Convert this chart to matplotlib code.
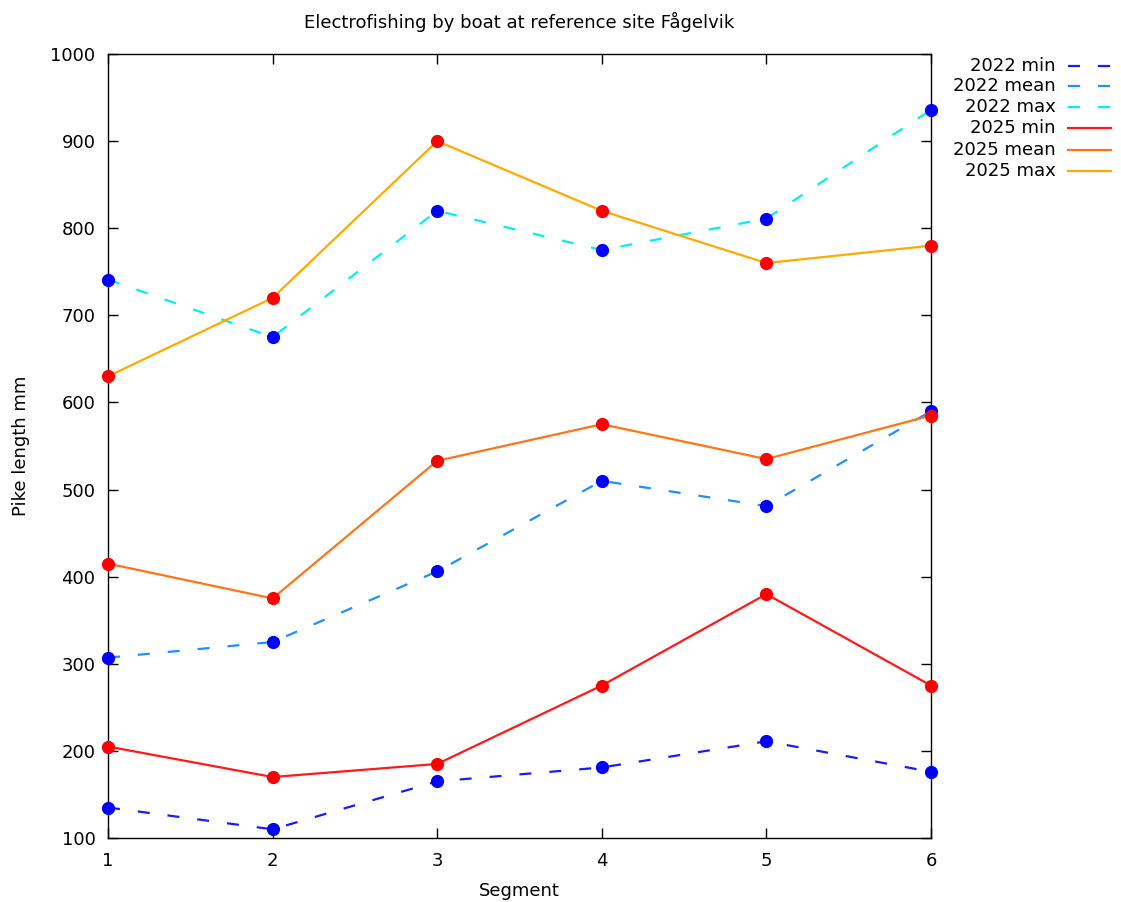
import matplotlib
matplotlib.use("Agg")
import matplotlib.pyplot as plt
from matplotlib.lines import Line2D

plt.rcParams['font.family'] = ['DejaVu Sans']

segments = [1, 2, 3, 4, 5, 6]

min_2022 = [135, 110, 165, 181, 211, 176]
mean_2022 = [307, 325, 406, 510, 481, 590]
max_2022 = [741, 675, 820, 775, 811, 936]

min_2025 = [205, 170, 185, 275, 380, 275]
mean_2025 = [415, 375, 533, 575, 535, 585]
max_2025 = [630, 720, 900, 820, 760, 780]

series_labels = ["2022 min", "2022 mean", "2022 max", "2025 min", "2025 mean", "2025 max"]
y_ticks = [100, 200, 300, 400, 500, 600, 700, 800, 900, 1000]

W, H = 1121, 902
fig = plt.figure(figsize=(W / 100, H / 100), dpi=100)
ax = fig.add_axes([108 / W, 1 - 838 / H, (931 - 108) / W, (838 - 54) / H])

lw = 1.6
dash = (0, (5.4, 8.1))
styles = [
    (min_2022, '#1a1aff', dash),
    (mean_2022, '#1e90ff', dash),
    (max_2022, '#00f0f0', dash),
    (min_2025, '#ff1a1a', '-'),
    (mean_2025, '#ff7518', '-'),
    (max_2025, '#ffaa00', '-'),
]

for vals, col, ls in styles:
    ax.plot(segments, vals, color=col, linestyle=ls, linewidth=lw, zorder=2)

for vals in (min_2022, mean_2022, max_2022):
    ax.plot(segments, vals, linestyle='none', marker='o', markersize=8.5,
            color='#0000ff', zorder=3, clip_on=False)
for vals in (min_2025, mean_2025, max_2025):
    ax.plot(segments, vals, linestyle='none', marker='o', markersize=8.5,
            color='#ff0000', zorder=4, clip_on=False)

ax.set_xlim(1, 6)
ax.set_ylim(100, 1000)
ax.set_xticks(segments)
ax.set_yticks(y_ticks)
ax.tick_params(direction='in', length=7, width=1, top=True, right=True,
               labelsize=13, colors='black')
ax.tick_params(axis='y', pad=9)
ax.tick_params(axis='x', pad=10)
for s in ax.spines.values():
    s.set_linewidth(1)
    s.set_color('black')

ax.set_xlabel("Segment", fontsize=13, labelpad=9)
ax.set_ylabel("Pike length mm", fontsize=13, labelpad=15)
fig.text(519 / W, 1 - 22 / H, "Electrofishing by boat at reference site Fågelvik",
         ha='center', va='center', fontsize=13)

# Key to the right of the plot
row_y = [66, 86, 107, 128, 150, 171]
for (vals, col, ls), lab, yy in zip(styles, series_labels, row_y):
    fy = 1 - yy / H
    fig.text(1056 / W, fy, lab, ha='right', va='center', fontsize=13)
    fig.add_artist(Line2D([1068 / W, 1111 / W], [fy, fy], color=col,
                          linestyle=ls, linewidth=lw, transform=fig.transFigure))

fig.savefig("out.png", dpi=100)
